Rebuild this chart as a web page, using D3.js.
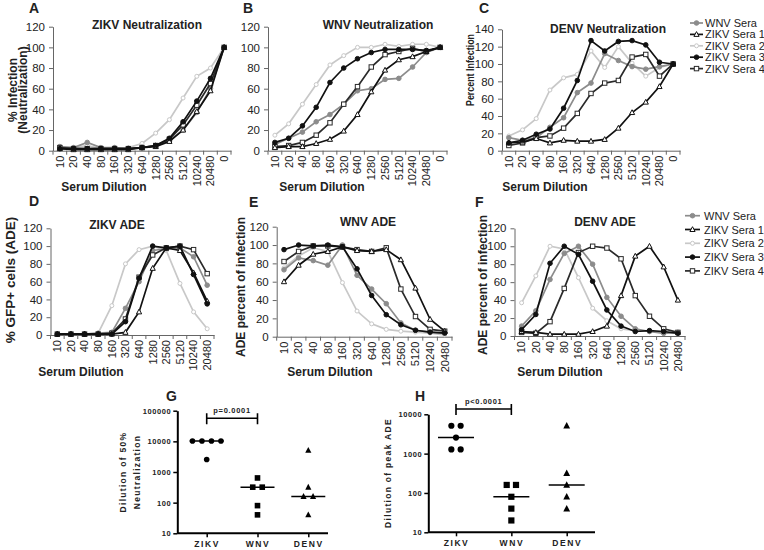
<!DOCTYPE html>
<html><head><meta charset="utf-8">
<script src="https://cdn.jsdelivr.net/npm/d3@7"></script>
<style>body{margin:0;background:#fff} svg{display:block} text{font-family:"Liberation Sans",Arial,sans-serif;fill:#222}</style>
</head><body><svg id="c" width="764" height="550"></svg>
<script>
// ---------------- DATA ----------------
const dilNeut = ["10","20","40","80","160","320","640","1280","2560","5120","10240","20480","0"];
const dilADE  = ["10","20","40","80","160","320","640","1280","2560","5120","10240","20480"];
const seriesNames = ["WNV Sera","ZIKV Sera 1","ZIKV Sera 2","ZIKV Sera 3","ZIKV Sera 4"];
// rows follow seriesNames order
const zikvNeut = [
  [4,3,8,3,3,2,3,5,10,20,37,60,100],
  [2,1,1,1,1,1,3,4,9,20,38,58,100],
  [3,3,5,2,2,3,7,17,30,51,72,80,100],
  [2,2,2,2,2,2,3,5,12,28,48,70,100],
  [3,2,2,2,2,2,3,5,11,25,44,65,100]
];
const wnvNeut = [
  [6,12,18,28,35,45,58,60,69,70,81,95,100],
  [3,4,4,7,11,19,35,57,78,88,91,96,100],
  [15,26,45,64,83,92,100,100,103,101,103,103,100],
  [8,12,24,42,66,80,89,95,98,98,98,97,100],
  [4,5,8,15,27,45,62,81,93,96,99,96,100]
];
const denvNeut = [
  [15,12,15,27,38,67,78,112,104,97,94,97,100],
  [9,10,14,9,12,11,11,13,26,44,56,74,100],
  [17,24,37,70,84,88,115,96,120,101,86,96,100],
  [9,12,19,25,49,81,127,115,126,127,122,102,100],
  [6,9,15,17,26,43,66,78,81,108,111,86,100]
];
const zikvADE = [
  [1,1,1,2,3,30,60,95,97,98,88,56],
  [1,1,1,1,1,3,26,75,98,95,70,38],
  [1,1,1,2,33,80,96,100,95,58,26,7],
  [1,1,1,1,1,15,64,100,98,100,68,35],
  [1,1,1,1,2,18,65,90,98,100,96,69]
];
const wnvADE = [
  [73,86,83,78,100,67,52,36,15,7,5,4],
  [60,78,90,93,98,94,93,95,84,53,19,6],
  [75,88,97,93,59,28,14,8,6,5,4,2],
  [95,100,99,100,98,74,45,24,13,7,5,4],
  [82,93,99,99,98,95,93,97,52,22,8,6]
];
const denvADE = [
  [11,28,63,92,100,80,43,22,8,5,3,4],
  [5,4,2,2,2,5,11,45,89,100,77,40],
  [37,67,100,97,65,31,17,8,6,5,4,4],
  [7,24,81,100,91,61,29,11,5,6,5,3],
  [4,3,16,53,93,100,98,86,45,22,8,4]
];
const virusCats = ["ZIKV","WNV","DENV"];
const neut50ZIKV = [10240,10240,10240,10240,2560];
const neut50WNV  = [320,320,640,80,40];
const neut50DENV = [5120,320,160,160,40];
const peakZIKV = [5120,5120,2560,1280,1280];
const peakWNV  = [160,160,80,40,20];
const peakDENV = [5120,320,160,80,40];
const pG = "p=0.0001", pH = "p<0.0001";

// ---------------- STYLES ----------------
const sty = [
  {c:"#8c8c8c", m:"circle", fill:"#8c8c8c"},
  {c:"#111", m:"triangle", fill:"#fff"},
  {c:"#c8c8c8", m:"circle", fill:"#fff"},
  {c:"#111", m:"circle", fill:"#111"},
  {c:"#2a2a2a", m:"square", fill:"#fff"}
];
const drawOrder = [2,0,4,1,3];
const svg = d3.select("#c");

function marker(g, s, cx, cy){
  if (s.m==="circle") g.append("circle").attr("cx",cx).attr("cy",cy).attr("r",s.fill==="#fff"?2:2.3)
      .attr("fill",s.fill).attr("stroke",s.c).attr("stroke-width",1);
  else if (s.m==="square") g.append("rect").attr("x",cx-2.2).attr("y",cy-2.2).attr("width",4.4).attr("height",4.4)
      .attr("fill",s.fill).attr("stroke",s.c).attr("stroke-width",1);
  else g.append("path").attr("d",`M${cx},${cy-2.8}L${cx+2.6},${cy+2}L${cx-2.6},${cy+2}Z`)
      .attr("fill",s.fill).attr("stroke",s.c).attr("stroke-width",1);
}

function linePanel(o){
  const g = svg.append("g");
  const x = d3.scaleBand().domain(o.cats).range([o.x0,o.x1]);
  const y = d3.scaleLinear().domain([0,o.ymax]).range([o.yb,o.yt]);
  const ya = g.append("g").attr("transform",`translate(${o.x0},0)`)
    .call(d3.axisLeft(y).tickValues(d3.range(0,o.ymax+1,20)).tickSize(4).tickSizeOuter(0).tickPadding(4));
  ya.select(".domain").attr("stroke","#666");
  ya.selectAll(".tick line").attr("stroke","#666");
  ya.selectAll("text").attr("font-size",11.5).attr("fill","#222").attr("font-family","Liberation Sans, Arial");
  const xa = g.append("g").attr("transform",`translate(0,${o.yb})`)
    .call(d3.axisBottom(x).tickSize(0).tickSizeOuter(0));
  xa.select(".domain").attr("stroke","#666");
  xa.selectAll("text").attr("font-size",11).attr("fill","#222").attr("font-family","Liberation Sans, Arial")
    .attr("transform","rotate(-90)").attr("text-anchor","end").attr("x",-5).attr("y",0).attr("dy","0.35em");
  const st = x.step();
  for (let i=0;i<=o.cats.length;i++){
    g.append("line").attr("x1",o.x0+i*st).attr("x2",o.x0+i*st).attr("y1",o.yb).attr("y2",o.yb+4).attr("stroke","#666");
  }
  drawOrder.forEach(si=>{
    const s = sty[si], vals = o.data[si];
    const line = d3.line().x((d,i)=>x(o.cats[i])+x.bandwidth()/2).y(d=>y(d));
    g.append("path").attr("d",line(vals)).attr("fill","none").attr("stroke",s.c).attr("stroke-width",1.7);
    vals.forEach((v,i)=>marker(g,s,x(o.cats[i])+x.bandwidth()/2,y(v)));
  });
  g.append("text").attr("x",o.tx).attr("y",o.ty).attr("text-anchor","middle").attr("font-weight","bold").attr("font-size",12).text(o.title);
  g.append("text").attr("x",o.sx).attr("y",o.sy).attr("text-anchor","middle").attr("font-weight","bold").attr("font-size",12).text("Serum Dilution");
  g.append("text").attr("x",o.lx).attr("y",o.ly).attr("font-weight","bold").attr("font-size",14).text(o.letter);
  if (o.ylab){
    o.ylab.forEach((t,k)=>{
      const tt = g.append("text").attr("transform",`translate(${o.yx[k]},${o.yy}) rotate(-90)`)
        .attr("text-anchor","middle").attr("font-weight","bold").attr("font-size",o.yfs||12).text(t);
      if (o.ylen) tt.attr("textLength",o.ylen).attr("lengthAdjust","spacingAndGlyphs");
    });
  }
}

function legend(x0,x1,tx,y0,dy){
  seriesNames.forEach((n,i)=>{
    const s = sty[i], yy = y0+i*dy, g = svg.append("g");
    g.append("line").attr("x1",x0).attr("x2",x1).attr("y1",yy).attr("y2",yy).attr("stroke",s.c).attr("stroke-width",1.7);
    marker(g,s,(x0+x1)/2,yy);
    g.append("text").attr("x",tx).attr("y",yy+4).attr("font-size",11).attr("fill","#333").text(n);
  });
}

linePanel({x0:53,x1:231,yt:26.7,yb:150.7,ymax:120,cats:dilNeut,data:zikvNeut,title:"ZIKV  Neutralization",tx:147,ty:29,
  sx:104,sy:191,letter:"A",lx:29,ly:13,ylab:["% Infection","(Neutralization)"],yx:[17,27],yy:90});
linePanel({x0:268,x1:447,yt:26.7,yb:150.7,ymax:120,cats:dilNeut,data:wnvNeut,title:"WNV Neutralization",tx:378,ty:29,
  sx:322,sy:191,letter:"B",lx:243,ly:13});
linePanel({x0:502,x1:680,yt:29.3,yb:150.7,ymax:140,cats:dilNeut,data:denvNeut,title:"DENV  Neutralization",tx:608,ty:33,
  sx:545,sy:191,letter:"C",lx:479,ly:13,ylab:["Percent Infection"],yx:[474],yy:70,ylen:72,yfs:11.5});
linePanel({x0:50.5,x1:214,yt:228.3,yb:335,ymax:120,cats:dilADE,data:zikvADE,title:"ZIKV ADE",tx:117,ty:229,
  sx:81,sy:376,letter:"D",lx:29,ly:206,ylab:["% GFP+ cells (ADE)"],yx:[15],yy:280,yfs:13.5});
linePanel({x0:276.7,x1:452,yt:226.7,yb:336.7,ymax:120,cats:dilADE,data:wnvADE,title:"WNV ADE",tx:368,ty:226,
  sx:330,sy:376,letter:"E",lx:249,ly:207,ylab:["ADE  percent of infection"],yx:[245],yy:287});
linePanel({x0:514.5,x1:685,yt:228.3,yb:336,ymax:120,cats:dilADE,data:denvADE,title:"DENV ADE",tx:605,ty:226,
  sx:560,sy:376,letter:"F",lx:475,ly:207,ylab:["ADE percent of infection"],yx:[487],yy:285});
legend(690,703,705,23,11.4);
legend(685,700,704,215.7,13.8);

// ---------------- scatter panels ----------------
function spread(vals, step){
  const seen = {}, cnt = {};
  vals.forEach(v=>cnt[v]=(cnt[v]||0)+1);
  return vals.map(v=>{ const k = seen[v]||0; seen[v]=k+1; return (k-(cnt[v]-1)/2)*step; });
}
function scatterPanel(o){
  const g = svg.append("g");
  const y = d3.scaleLog().domain([10,o.max]).range([o.yb,o.yt]);
  const x = d3.scalePoint().domain(virusCats).range([o.c0,o.c2]);
  const ya = g.append("g").attr("transform",`translate(${o.x0},0)`)
    .call(d3.axisLeft(y).tickValues(o.ticks).tickFormat(d3.format("d")).tickSize(4).tickSizeOuter(0).tickPadding(2));
  ya.select(".domain").attr("stroke","#000").attr("stroke-width",2);
  ya.selectAll(".tick line").attr("stroke","#000").attr("stroke-width",1.5);
  ya.selectAll("text").attr("font-size",7.5).attr("font-weight","bold").attr("letter-spacing",0.6)
    .attr("fill","#222").attr("font-family","Liberation Sans, Arial");
  const xa = g.append("g").attr("transform",`translate(0,${o.yb})`)
    .call(d3.axisBottom(x).tickSize(4).tickSizeOuter(0).tickPadding(4));
  xa.select(".domain").attr("stroke","#000").attr("stroke-width",2).attr("d",`M${o.x0},0H${o.x1}`);
  xa.selectAll(".tick line").attr("stroke","#000").attr("stroke-width",1.5);
  xa.selectAll("text").attr("font-size",8.5).attr("font-weight","bold").attr("letter-spacing",1.6)
    .attr("fill","#222").attr("font-family","Liberation Sans, Arial");
  const shapes = ["circle","square","triangle"];
  o.sets.forEach((vals,ci)=>{
    const cx = x(virusCats[ci]), offs = spread(vals,o.step);
    vals.forEach((v,i)=>{
      const px = cx+offs[i], py = y(v), r = o.r;
      if (shapes[ci]==="circle") g.append("circle").attr("cx",px).attr("cy",py).attr("r",r).attr("fill","#000");
      else if (shapes[ci]==="square") g.append("rect").attr("x",px-r).attr("y",py-r).attr("width",2*r).attr("height",2*r).attr("fill","#000");
      else g.append("path").attr("d",`M${px},${py-r*1.2}L${px+r*1.1},${py+r*0.9}L${px-r*1.1},${py+r*0.9}Z`).attr("fill","#000");
    });
    const md = d3.median(vals);
    g.append("line").attr("x1",cx-o.mw).attr("x2",cx+o.mw).attr("y1",y(md)).attr("y2",y(md)).attr("stroke","#000").attr("stroke-width",1.5);
  });
  const bx0 = x("ZIKV"), bx1 = x("WNV");
  g.append("path").attr("d",`M${bx0},${o.by-5}V${o.by+6}M${bx0},${o.by}H${bx1}M${bx1},${o.by-5}V${o.by+6}`)
    .attr("stroke","#000").attr("stroke-width",1.6).attr("fill","none");
  g.append("text").attr("x",(bx0+bx1)/2).attr("y",o.by-5).attr("text-anchor","middle").attr("font-size",7.5)
    .attr("font-weight","bold").attr("letter-spacing",0.7).text(o.p);
  g.append("text").attr("x",o.lx).attr("y",o.ly).attr("font-weight","bold").attr("font-size",14).text(o.letter);
  o.ylab.forEach((t,k)=>{
    g.append("text").attr("transform",`translate(${o.yx[k]},${o.yy}) rotate(-90)`).attr("text-anchor","middle")
      .attr("font-weight","bold").attr("font-size",8.5).attr("letter-spacing",1.3).text(t);
  });
}
scatterPanel({x0:177.3,x1:328,yt:410.7,yb:533.3,max:100000,ticks:[10,100,1000,10000,100000],c0:206.7,c2:308.3,
  sets:[neut50ZIKV,neut50WNV,neut50DENV],step:9.5,r:2.8,mw:17,by:418.3,p:pG,letter:"G",lx:166,ly:401,
  ylab:["Dilution of 50%","Neutralization"],yx:[126,140],yy:472});
scatterPanel({x0:428.3,x1:595,yt:414.3,yb:532.3,max:10000,ticks:[10,100,1000,10000],c0:456,c2:566.7,
  sets:[peakZIKV,peakWNV,peakDENV],step:9.3,r:3.1,mw:18,by:409,p:pH,letter:"H",lx:415,ly:401,
  ylab:["Dilution of peak ADE"],yx:[391],yy:473});
</script></body></html>
